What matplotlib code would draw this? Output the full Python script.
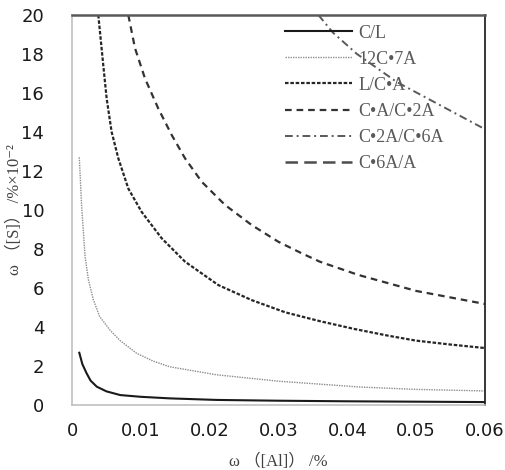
import matplotlib
matplotlib.use("Agg")
import matplotlib.pyplot as plt

# values (w[Al] in %, w[S] in % x 10^-2)
x_cl = [0.00106, 0.0015, 0.00213, 0.0027, 0.0036, 0.005, 0.007, 0.01, 0.0142,
        0.021, 0.03, 0.04, 0.05, 0.06]
y_cl = [2.68, 2.1, 1.62, 1.25, 0.94, 0.7, 0.51, 0.42, 0.34, 0.26, 0.22, 0.19,
        0.17, 0.15]

x_c12a7 = [0.00106, 0.0014, 0.0019, 0.0024, 0.0031, 0.004, 0.0055, 0.007,
           0.0094, 0.0118, 0.0142, 0.021, 0.03, 0.0419, 0.05, 0.06]
y_c12a7 = [12.7, 10.2, 7.6, 6.4, 5.4, 4.55, 3.85, 3.3, 2.65, 2.25, 1.96, 1.55,
           1.22, 0.92, 0.8, 0.72]

x_lca = [0.00382, 0.00455, 0.00504, 0.00576, 0.00673, 0.00818, 0.01012,
         0.01303, 0.01642, 0.02126, 0.0261, 0.031, 0.036, 0.041, 0.046,
         0.05, 0.055, 0.06]
y_lca = [20.0, 17.4, 15.7, 14.0, 12.65, 11.1, 9.9, 8.55, 7.35, 6.15, 5.38,
         4.75, 4.3, 3.9, 3.55, 3.3, 3.1, 2.92]

x_ca_c2a = [0.00818, 0.00915, 0.0106, 0.01254, 0.01448, 0.01642, 0.01884,
            0.02223, 0.0261, 0.02998, 0.03337, 0.036, 0.0416, 0.05, 0.06]
y_ca_c2a = [20.0, 18.3, 16.75, 15.2, 13.85, 12.65, 11.45, 10.26, 9.23, 8.37,
            7.78, 7.35, 6.67, 5.85, 5.18]

x_c2a_c6a = [0.0358, 0.0379, 0.0414, 0.0472, 0.0597]
y_c2a_c6a = [20.0, 19.1, 18.0, 16.56, 14.2]

# C6A/A lies above the plotted range
x_c6a_a = [0.06]
y_c6a_a = [25.0]

labels = ['C/L', '12C•7A', 'L/C•A', 'C•A/C•2A', 'C•2A/C•6A', 'C•6A/A']
x_ticks = [0, 0.01, 0.02, 0.03, 0.04, 0.05, 0.06]
x_tick_labels = ['0', '0.01', '0.02', '0.03', '0.04', '0.05', '0.06']
y_ticks = [0, 2, 4, 6, 8, 10, 12, 14, 16, 18, 20]

fig = plt.figure(figsize=(5.06, 4.70), dpi=100)
ax = fig.add_axes([72 / 506, 65 / 470, 413 / 506, 390 / 470])

ax.plot(x_cl, y_cl, color='#1a1a1a', lw=1.5, ls='-', label=labels[0])
ax.plot(x_c12a7, y_c12a7, color='#8c8c8c', lw=1.0, ls=(0, (1, 0.8)), label=labels[1])
ax.plot(x_lca, y_lca, color='#262626', lw=1.6, ls=(0, (1.6, 0.8)), label=labels[2])
ax.plot(x_ca_c2a, y_ca_c2a, color='#333333', lw=1.6, ls=(0, (3, 2.2)), label=labels[3])
ax.plot(x_c2a_c6a, y_c2a_c6a, color='#595959', lw=1.4, ls=(0, (4, 2, 1, 2)), label=labels[4])
ax.plot(x_c6a_a, y_c6a_a, color='#4d4d4d', lw=1.8, ls=(0, (5, 2.5)), label=labels[5])

ax.set_xlim(0, 0.06)
ax.set_ylim(0, 20)
ax.set_xticks(x_ticks)
ax.set_xticklabels(x_tick_labels)
ax.set_yticks(y_ticks)
ax.tick_params(length=0, labelsize=13, labelcolor='#1a1a1a')
ax.tick_params(axis='x', pad=12)
ax.tick_params(axis='y', pad=20)

for s in ['left', 'bottom']:
    ax.spines[s].set_color('#c0c0c0')
    ax.spines[s].set_linewidth(1.2)
ax.spines['top'].set_color('#595959')
ax.spines['top'].set_linewidth(1.8)
ax.spines['right'].set_color('#262626')
ax.spines['right'].set_linewidth(1.3)

lab_font = ['Liberation Serif', 'DejaVu Serif', 'Noto Sans CJK SC']
ax.set_xlabel('ω （[Al]） /%', family=lab_font, fontsize=12, color='#404040')
ax.xaxis.set_label_coords(0.5, -0.125)
ax.set_ylabel('ω （[S]） /%×10⁻²', family=lab_font, fontsize=12, color='#404040')
ax.yaxis.set_label_coords(-0.118, 0.5)

leg = ax.legend(loc='upper left', bbox_to_anchor=(0.515, 0.975), frameon=False,
                prop={'family': 'Liberation Serif', 'size': 13},
                handlelength=3.7, handletextpad=0.4, labelspacing=0.5,
                borderpad=0, borderaxespad=0)
for t in leg.get_texts():
    t.set_color('#595959')

fig.savefig('out.png', dpi=100)
